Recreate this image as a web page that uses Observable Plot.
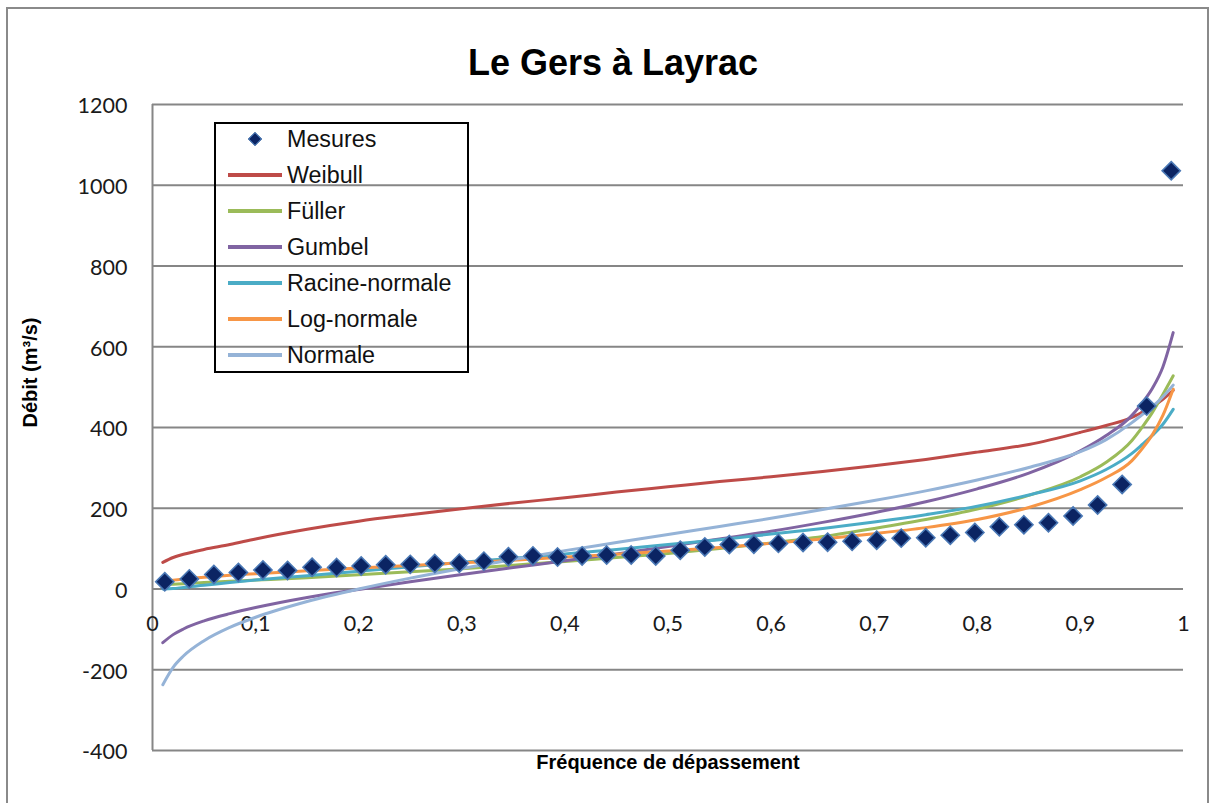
<!DOCTYPE html>
<html>
<head>
<meta charset="utf-8">
<script src="https://cdn.jsdelivr.net/npm/d3@7"></script>
<script src="https://cdn.jsdelivr.net/npm/@observablehq/plot@0.6"></script>
<style>
  html, body { margin: 0; padding: 0; background: #fff; overflow: hidden; }
  #wrap { position: relative; width: 1213px; height: 803px; overflow: hidden; }
  #frame { position: absolute; left: 6px; top: 7px; width: 1203px; height: 820px; border: 2px solid #8a8a8a; box-sizing: border-box; pointer-events: none; }
  #legend { position: absolute; left: 214px; top: 122px; width: 255px; height: 251px; border: 2px solid #000; box-sizing: border-box; font-family: "Liberation Sans", Arial, sans-serif; font-size: 23.3px; color: #111; }
  .row { position: absolute; left: 0; height: 36px; width: 100%; }
  .sw { position: absolute; left: 12px; top: 16px; width: 54px; height: 4px; }
  .mk { position: absolute; left: 34px; top: 13px; width: 8px; height: 8px; transform: rotate(45deg); background: #0b2463; border: 1px solid #4f81bd; }
  .lb { position: absolute; left: 71px; top: 0; line-height: 36px; white-space: nowrap; }
</style>
</head>
<body>
<div id="wrap">
  <div id="chart"></div>
  <div id="legend"></div>
  <div id="frame"></div>
</div>
<script>
// ---- Data ----
const title = "Le Gers à Layrac";
const yTitle = "Débit (m³/s)";
const xTitle = "Fréquence de dépassement";

const yTicks = [-400, -200, 0, 200, 400, 600, 800, 1000, 1200];
const xTicks = [0, 0.1, 0.2, 0.3, 0.4, 0.5, 0.6, 0.7, 0.8, 0.9, 1];
const xTickLabels = ["0", "0,1", "0,2", "0,3", "0,4", "0,5", "0,6", "0,7", "0,8", "0,9", "1"];

// Measured discharges (Mesures) and their plotting frequencies
const measFreq = [0.0119, 0.0357, 0.0595, 0.0833, 0.1071, 0.131, 0.1548, 0.1786, 0.2024, 0.2262,
  0.25, 0.2738, 0.2976, 0.3214, 0.3452, 0.369, 0.3929, 0.4167, 0.4405, 0.4643,
  0.4881, 0.5119, 0.5357, 0.5595, 0.5833, 0.6071, 0.631, 0.6548, 0.6786, 0.7024,
  0.7262, 0.75, 0.7738, 0.7976, 0.8214, 0.8452, 0.869, 0.8929, 0.9167, 0.9405,
  0.9643, 0.9881];
const measQ = [18, 25, 36, 41, 47, 46, 54, 53, 57, 60,
  61, 63, 64, 69, 80, 82, 79, 82, 84, 84,
  82, 96, 104, 110, 111, 113, 115, 116, 118, 121,
  126, 127, 133, 140, 154, 159, 164, 181, 208, 259,
  453, 1036];

// Fitted distributions
const curveFreq = [0.01, 0.02, 0.03, 0.05, 0.075, 0.1, 0.15, 0.2, 0.25, 0.3, 0.35, 0.4, 0.45, 0.5,
  0.55, 0.6, 0.65, 0.7, 0.75, 0.8, 0.85, 0.9, 0.925, 0.95, 0.96, 0.97, 0.98, 0.99];
const weibull = [66, 78, 86, 98, 110, 124, 148, 168, 184, 199, 213, 226, 240, 253,
  266, 278, 291, 305, 321, 339, 358, 388, 405, 425, 438, 452, 470, 492];
const fuller = [11, 12, 13, 16, 19, 22, 28, 35, 43, 50, 59, 68, 78, 88,
  100, 114, 130, 150, 172, 198, 232, 278, 314, 368, 401, 438, 482, 528];
const gumbel = [-133, -113, -99, -79, -61, -46, -21, -1, 18, 36, 53, 70, 87, 105,
  124, 143, 165, 189, 216, 248, 287, 342, 380, 430, 461, 498, 550, 635];
const racine = [0, 1, 4, 9, 16, 22, 33, 44, 55, 66, 76, 87, 98, 110,
  122, 136, 150, 166, 184, 205, 233, 268, 296, 336, 358, 381, 408, 445];
const lognorm = [18, 22, 25, 29, 34, 38, 45, 52, 58, 65, 71, 79, 86, 94,
  103, 113, 124, 137, 152, 172, 202, 246, 276, 318, 348, 383, 430, 495];
const normale = [-237, -194, -166, -128, -95, -70, -31, 0, 27, 51, 73, 95, 115, 135,
  155, 175, 197, 219, 243, 270, 301, 340, 370, 412, 432, 452, 476, 505];

const seriesNames = ["Weibull", "Füller", "Gumbel", "Racine-normale", "Log-normale", "Normale"];
const seriesValues = [weibull, fuller, gumbel, racine, lognorm, normale];
const seriesColors = ["#be4b48", "#9bbb59", "#8064a2", "#4bacc6", "#f79646", "#95b3d7"];

// ---- Tables built from the arrays ----
const curves = seriesNames.flatMap((name, s) =>
  curveFreq.map((f, i) => ({series: name, f, q: seriesValues[s][i]})));
const measures = measFreq.map((f, i) => ({f, q: measQ[i]}));

const chart = Plot.plot({
  width: 1213,
  height: 803,
  marginLeft: 152,
  marginRight: 30,
  marginTop: 104,
  marginBottom: 53,
  x: {domain: [0, 1], axis: null},
  y: {domain: [-400, 1200], axis: null},
  color: {domain: seriesNames, range: seriesColors},
  style: {fontFamily: "Lato, sans-serif", background: "transparent", overflow: "visible"},
  marks: [
    Plot.ruleY(yTicks, {stroke: "#868686", strokeWidth: 2}),
    Plot.ruleX([0], {stroke: "#868686", strokeWidth: 2}),
    Plot.text(yTicks, {y: d => d, frameAnchor: "left", text: d => String(d), textAnchor: "end",
      dx: -25, dy: 2, fontSize: 21.5, fill: "#1a1a1a"}),
    Plot.text(xTicks, {x: d => d, y: () => 0, text: (d, i) => xTickLabels[i], dy: 35,
      fontSize: 21.5, fill: "#1a1a1a"}),
    Plot.line(curves, {x: "f", y: "q", z: "series", stroke: "series", strokeWidth: 3,
      curve: "monotone-x"}),
    Plot.dot(measures, {x: "f", y: "q", symbol: "diamond2", r: 8.2, fill: "#0b2463",
      stroke: "#4a78b5", strokeWidth: 1.6}),
    Plot.text([title], {frameAnchor: "top", dx: -55, dy: -55, fontSize: 36, fontWeight: "bold",
      fontFamily: "Liberation Sans, Arial, sans-serif", fill: "#000"}),
    Plot.text([yTitle], {frameAnchor: "left", rotate: -90, dx: -122, fontSize: 20, fontWeight: "bold",
      fontFamily: "Liberation Sans, Arial, sans-serif", fill: "#000"}),
    Plot.text([xTitle], {frameAnchor: "bottom", dy: 18, fontSize: 20, fontWeight: "bold",
      fontFamily: "Liberation Sans, Arial, sans-serif", fill: "#000"})
  ]
});
document.getElementById("chart").appendChild(chart);

// ---- Legend (HTML) ----
const legend = document.getElementById("legend");
const legendItems = [{name: "Mesures", marker: true}].concat(
  seriesNames.map((n, i) => ({name: n, color: seriesColors[i]})));
legendItems.forEach((it, i) => {
  const row = document.createElement("div");
  row.className = "row";
  row.style.top = (-3 + 36 * i) + "px";
  const sym = document.createElement("div");
  if (it.marker) { sym.className = "mk"; }
  else { sym.className = "sw"; sym.style.background = it.color; }
  const lb = document.createElement("div");
  lb.className = "lb";
  lb.textContent = it.name;
  row.appendChild(sym);
  row.appendChild(lb);
  legend.appendChild(row);
});
</script>
</body>
</html>
